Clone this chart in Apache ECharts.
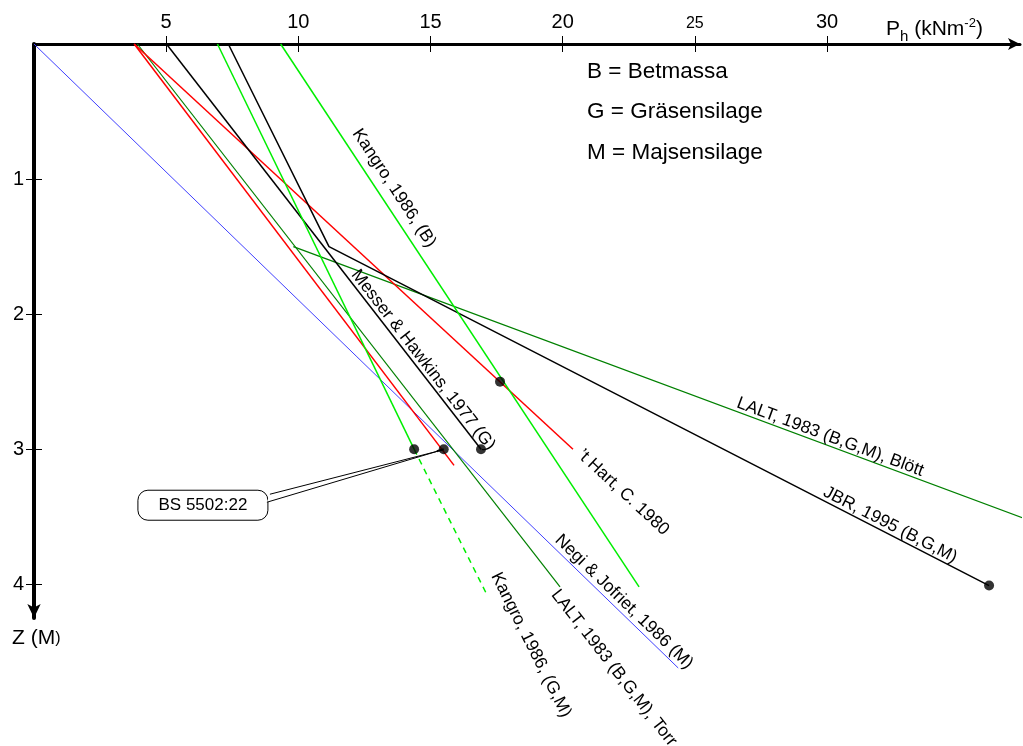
<!DOCTYPE html>
<html><head><meta charset="utf-8">
<script src="https://cdn.jsdelivr.net/npm/echarts@6/dist/echarts.min.js"></script>
<style>html,body{margin:0;padding:0;background:#fff}#c{width:1023px;height:746px}</style>
</head><body><div id="c"></div>
<script>
const FF = '"Liberation Sans", Arial, Helvetica, sans-serif';
// tick labels
const xTicks = [5, 10, 15, 20, 25, 30];
const zTicks = [1, 2, 3, 4];
// pressure curves: [P_h (kN/m2), depth Z (m)]
const negi = [[0, 0], [24.37, 4.62]];
const hart = [[3.79, 0], [20.39, 3.0]];
const bs5502 = [[3.79, 0], [15.89, 3.12]];
const laltTorr = [[3.91, 0], [19.9, 4.02]];
const laltBlott = [[9.81, 1.5], [37.42, 3.51]];
const messer = [[5.01, 0], [16.91, 3.0]];
const jbr = [[7.35, 0], [11.16, 1.5], [36.13, 4.01]];
const kangroB = [[9.33, 0], [22.89, 4.02]];
const kangroGM = [[6.94, 0], [14.38, 3.0]];
const kangroGMext = [[14.38, 3.0], [17.14, 4.08]];
const points = [[17.63, 2.5], [14.38, 3.0], [15.5, 3.0], [16.91, 3.0], [36.13, 4.01]];
// labels along lines
const labelTexts = ['Kangro, 1986, (B)', 'Messer & Hawkins, 1977 (G)', '\u2019t Hart, C. 1980',
  'LALT, 1983 (B,G,M), Bl\u00f6tt', 'JBR, 1995 (B,G,M)', 'Negi & Jofriet, 1986 (M)',
  'Kangro, 1986, (G,M)', 'LALT, 1983 (B,G,M), Torr'];
const labelAt = [[13.62, 1.067], [14.72, 2.34], [22.29, 3.32], [30.12, 2.91], [32.39, 3.56],
  [22.32, 4.13], [18.8, 4.45], [21.94, 4.62]];
const labelLines = [kangroB, messer, hart, laltBlott, [jbr[1], jbr[2]], negi, kangroGMext, laltTorr];
const notes = ['B = Betmassa', 'G = Gr\u00e4sensilage', 'M = Majsensilage'];
const calloutText = 'BS 5502:22';
const calloutBox = [6.39, 3.415];
const calloutTip = [15.5, 3.0];

const chart = echarts.init(document.getElementById('c'), null, {renderer: 'canvas'});

function lineSeries(name, data, color, width, extra) {
  return Object.assign({
    name, type: 'line', data, symbol: 'none', silent: true, clip: false,
    lineStyle: {color, width}, z: 3
  }, extra || {});
}

const xBase = {
  type: 'value', min: 0, max: 37.3, interval: 5, position: 'top',
  splitLine: {show: false}
};
const yBase = {
  type: 'value', min: 0, max: 4.25, interval: 1, inverse: true, position: 'left',
  splitLine: {show: false}
};

const option = {
  animation: false,
  backgroundColor: '#fff',
  grid: {left: 34, top: 44, right: 3, bottom: 128, containLabel: false},
  xAxis: [
    Object.assign({}, xBase, {
      axisLine: {show: true, lineStyle: {color: '#000', width: 3}, symbol: ['none', 'arrow'], symbolSize: [9, 12]},
      axisTick: {show: true, inside: false, length: 8, lineStyle: {color: '#000', width: 1}, customValues: xTicks},
      axisLabel: {
        show: true, margin: 12, customValues: xTicks, color: '#000',
        formatter: v => (v === 25 ? '{s|' + v + '}' : '{n|' + v + '}'),
        rich: {n: {fontSize: 20, fontFamily: FF, color: '#000'}, s: {fontSize: 16, fontFamily: FF, color: '#000'}}
      }
    }),
    Object.assign({}, xBase, {
      axisLine: {show: false},
      axisTick: {show: true, inside: true, length: 8, lineStyle: {color: '#000', width: 1}, customValues: xTicks},
      axisLabel: {show: false}
    })
  ],
  yAxis: [
    Object.assign({}, yBase, {
      axisLine: {show: true, lineStyle: {color: '#000', width: 4}, symbol: ['arrow', 'none'], symbolSize: [10, 14]},
      axisTick: {show: true, inside: false, length: 8, lineStyle: {color: '#000', width: 1}, customValues: zTicks},
      axisLabel: {show: true, margin: 10, customValues: zTicks, fontSize: 20, fontFamily: FF, color: '#000'}
    }),
    Object.assign({}, yBase, {
      axisLine: {show: false},
      axisTick: {show: true, inside: true, length: 8, lineStyle: {color: '#000', width: 1}, customValues: zTicks},
      axisLabel: {show: false}
    })
  ],
  series: [
    lineSeries('Negi & Jofriet', negi, '#4040ff', 1),
    lineSeries('LALT Torr', laltTorr, '#008000', 1.2),
    lineSeries('LALT Blött', laltBlott, '#008000', 1.3),
    lineSeries("'t Hart", hart, '#ff0000', 1.5),
    lineSeries('BS 5502', bs5502, '#ff0000', 1.5),
    lineSeries('Messer & Hawkins', messer, '#000000', 1.5),
    lineSeries('JBR', jbr, '#000000', 1.5),
    lineSeries('Kangro B', kangroB, '#00ee00', 1.5),
    lineSeries('Kangro GM', kangroGM, '#00ee00', 1.5),
    lineSeries('Kangro GM ext', kangroGMext, '#00ee00', 1.5, {lineStyle: {color: '#00ee00', width: 1.5, type: [6, 5]}}),
    {
      type: 'custom', name: 'callout', silent: true, z: 4,
      data: [calloutBox], encode: {x: 0, y: 1},
      renderItem: (params, api) => {
        const c = api.coord(calloutBox), t = api.coord(calloutTip);
        const w = 130, h = 30;
        return {type: 'group', children: [
          {type: 'rect', shape: {x: c[0] - w / 2, y: c[1] - h / 2, width: w, height: h, r: 10},
            style: {fill: '#fff', stroke: '#000', lineWidth: 1}},
          {type: 'polyline', shape: {points: [[c[0] + w / 2 + 2, c[1] - h / 2 + 4], [t[0] - 6, t[1] + 2], [c[0] + w / 2 - 1, c[1] - h / 2 + 12]]},
            style: {fill: '#fff', stroke: '#000', lineWidth: 1}},
          {type: 'line', shape: {x1: t[0] - 7, y1: t[1] + 2, x2: t[0], y2: t[1]}, style: {stroke: '#000', lineWidth: 2}},
          {type: 'text', x: c[0], y: c[1], style: {text: calloutText, fontSize: 17, fontFamily: FF, fill: '#000', align: 'center', verticalAlign: 'middle'}}
        ]};
      }
    },
    {
      type: 'scatter', name: 'points', data: points, symbol: 'circle', symbolSize: 10, silent: true, z: 6,
      itemStyle: {color: '#000'}
    },
    {
      type: 'custom', name: 'labels', silent: true, z: 5,
      data: labelAt, encode: {x: 0, y: 1},
      renderItem: (params, api) => {
        const i = params.dataIndex;
        const p = api.coord(labelAt[i]);
        const ln = labelLines[i];
        const a = api.coord(ln[0]), b = api.coord(ln[ln.length - 1]);
        const ang = Math.atan2(b[1] - a[1], b[0] - a[0]);
        return {type: 'text', x: p[0], y: p[1], rotation: -ang,
          style: {text: labelTexts[i], fontSize: 17.5, fontFamily: FF, fill: '#000', align: 'center', verticalAlign: 'middle'}};
      }
    }
  ],
  graphic: [
    {type: 'text', left: 587, top: 60, style: {text: notes[0], fontSize: 22.5, fontFamily: FF, fill: '#000'}},
    {type: 'text', left: 587, top: 100, style: {text: notes[1], fontSize: 22.5, fontFamily: FF, fill: '#000'}},
    {type: 'text', left: 587, top: 141, style: {text: notes[2], fontSize: 22.5, fontFamily: FF, fill: '#000'}},
    {type: 'text', left: 886, top: 14, style: {
      text: '{a|P}{b|h}{a| (kNm}{c|-2}{a|)}',
      rich: {a: {fontSize: 21, fontFamily: FF, fill: '#000', lineHeight: 30, verticalAlign: 'middle'},
             b: {fontSize: 15, fontFamily: FF, fill: '#000', lineHeight: 15, verticalAlign: 'bottom'},
             c: {fontSize: 13, fontFamily: FF, fill: '#000', lineHeight: 13, verticalAlign: 'top', padding: [3, 0, 0, 0]}}
    }},
    {type: 'text', left: 12, top: 628, style: {
      text: '{a|Z (M}{b|)}',
      rich: {a: {fontSize: 21, fontFamily: FF, fill: '#000'}, b: {fontSize: 16, fontFamily: FF, fill: '#000'}}
    }}
  ]
};
chart.setOption(option);
</script>
</body></html>
